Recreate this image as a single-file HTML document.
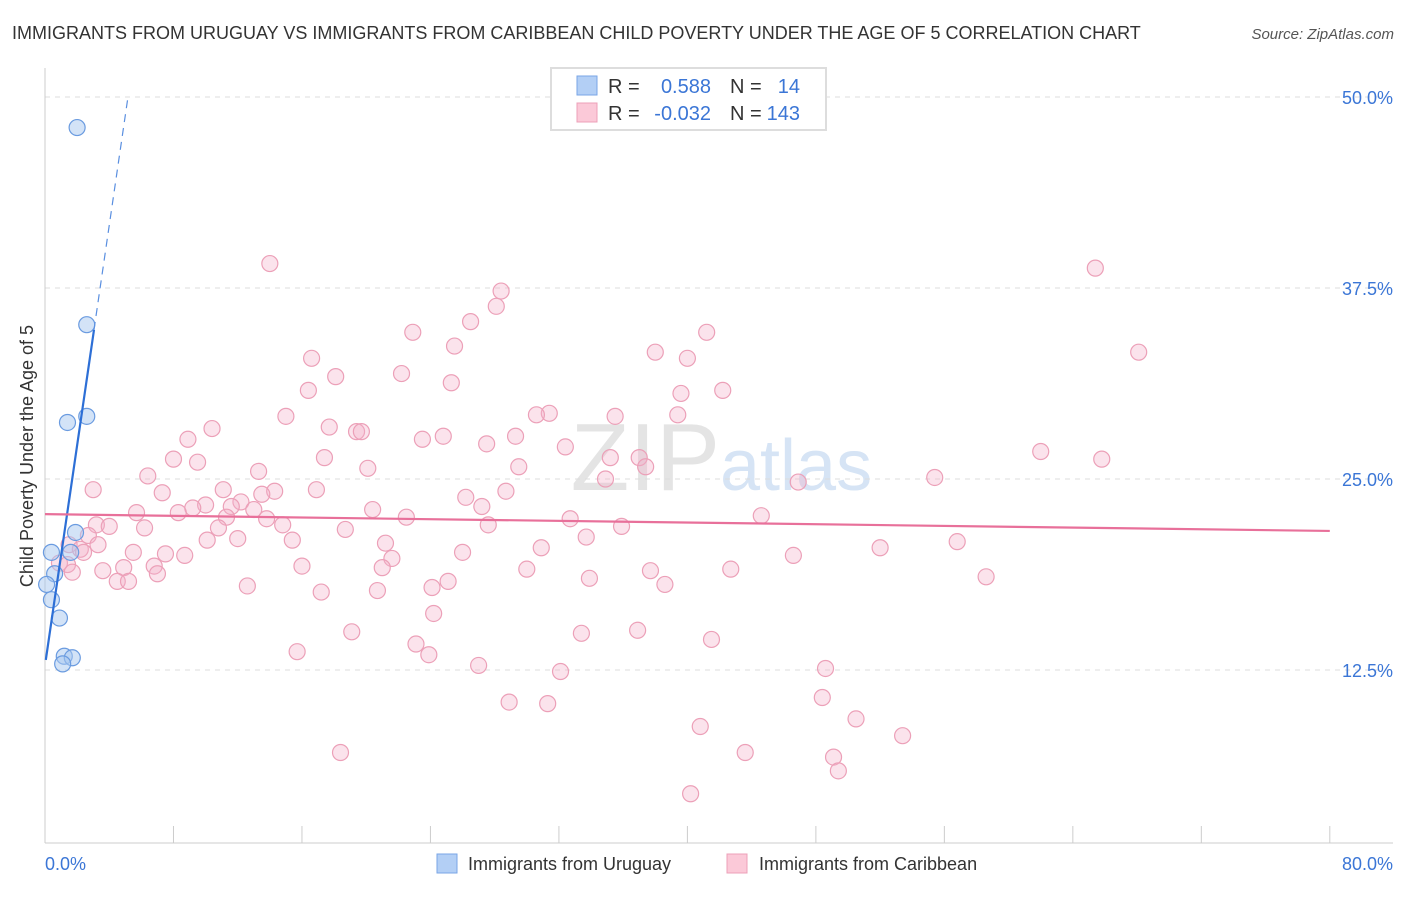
<!DOCTYPE html>
<html><head><meta charset="utf-8"><style>
body{margin:0;background:#fff;font-family:"Liberation Sans",sans-serif;}
svg text{font-family:"Liberation Sans",sans-serif;}
</style></head><body>
<svg id="chart" width="1406" height="892" xmlns="http://www.w3.org/2000/svg">
<text x="12" y="39" font-size="18" fill="#333">IMMIGRANTS FROM URUGUAY VS IMMIGRANTS FROM CARIBBEAN CHILD POVERTY UNDER THE AGE OF 5 CORRELATION CHART</text>
<text x="1394" y="39" font-size="15" fill="#555" text-anchor="end" font-style="italic">Source: ZipAtlas.com</text>
<text transform="translate(33,456) rotate(-90)" font-size="18" fill="#333" text-anchor="middle">Child Poverty Under the Age of 5</text>
<text x="720" y="490" font-size="96" fill="#e4e4e4" text-anchor="end" font-family="Liberation Serif">ZIP</text>
<text x="720" y="490" font-size="72" fill="#d6e4f5">atlas</text>
<g id="grid"></g><g id="axes"></g><g id="marks"></g>
<g>
<rect x="551" y="68" width="275" height="62" fill="#fff" stroke="#ddd" stroke-width="2"/>
<rect x="577" y="76" width="20" height="19" fill="#b3cff5" stroke="#7aa6e6"/>
<rect x="577" y="103" width="20" height="19" fill="#fbc9d8" stroke="#eca0b8"/>
<text x="608" y="93" font-size="20" fill="#333">R =</text>
<text x="711" y="93" font-size="20" fill="#3b76d6" text-anchor="end">0.588</text>
<text x="730" y="93" font-size="20" fill="#333">N =</text>
<text x="800" y="93" font-size="20" fill="#3b76d6" text-anchor="end">14</text>
<text x="608" y="120" font-size="20" fill="#333">R =</text>
<text x="711" y="120" font-size="20" fill="#3b76d6" text-anchor="end">-0.032</text>
<text x="730" y="120" font-size="20" fill="#333">N =</text>
<text x="800" y="120" font-size="20" fill="#3b76d6" text-anchor="end">143</text>
</g>
<g>
<rect x="437" y="854" width="20" height="19" fill="#b3cff5" stroke="#7aa6e6"/>
<text x="468" y="870" font-size="18" fill="#333">Immigrants from Uruguay</text>
<rect x="727" y="854" width="20" height="19" fill="#fbc9d8" stroke="#eca0b8"/>
<text x="759" y="870" font-size="18" fill="#333">Immigrants from Caribbean</text>
</g>
</svg>
<script>
const yTicks=[12.5,25,37.5,50];
const yTickLabels=["12.5%","25.0%","37.5%","50.0%"];
const xTicks=[0,8,16,24,32,40,48,56,64,72,80];
const xEndLabels=["0.0%","80.0%"];
const uruguayX=[2.0,2.6,2.6,1.4,1.9,1.6,0.4,0.6,0.4,0.9,1.2,1.7,1.1,0.1];
const uruguayY=[48.0,35.1,29.1,28.7,21.5,20.2,20.2,18.8,17.1,15.9,13.4,13.3,12.9,18.1];
const caribX=[14.0,65.4,28.4,28.1,26.5,22.9,41.2,25.5,38.0,40.0,68.1,16.6,18.1,22.2,25.3,16.4,42.2,39.6,15.0,31.4,30.6,35.5,39.4,10.4,17.7,19.4,19.7,23.5,24.8,29.3,8.9,27.5,32.4,8.0,9.5,62.0,65.8,35.2,37.0,17.4,20.1,29.5,37.4,13.3,6.4,34.9,46.9,55.4,3.0,7.3,11.1,14.3,16.9,26.2,28.7,13.5,10.0,9.2,12.2,11.6,8.3,5.7,13.0,20.4,27.2,11.3,13.8,22.5,32.7,44.6,3.2,4.0,10.8,14.8,18.7,27.6,35.9,6.2,2.7,12.0,10.1,15.4,21.2,33.7,56.8,3.3,1.5,2.2,2.4,5.5,7.5,8.7,26.0,30.9,52.0,46.6,21.6,0.9,1.4,1.7,3.6,4.9,6.8,7.0,16.0,21.0,30.0,42.7,37.7,4.5,5.2,12.6,25.1,33.9,24.1,20.7,17.2,38.6,58.6,24.2,19.1,33.4,36.9,41.5,23.1,15.7,23.9,27.0,32.1,48.6,48.4,28.9,31.3,50.5,40.8,53.4,18.4,43.6,49.1,49.4,40.2];
const caribY=[39.1,38.8,37.3,36.3,35.3,34.6,34.6,33.7,33.3,32.9,33.3,32.9,31.7,31.9,31.3,30.8,30.8,30.6,29.1,29.3,29.2,29.1,29.2,28.3,28.4,28.1,28.1,27.6,27.8,27.8,27.6,27.3,27.1,26.3,26.1,26.8,26.3,26.4,26.4,26.4,25.7,25.8,25.8,25.5,25.2,25.0,24.8,25.1,24.3,24.1,24.3,24.2,24.3,23.8,24.2,24.0,23.3,23.1,23.5,23.2,22.8,22.8,23.0,23.0,23.2,22.5,22.4,22.5,22.4,22.6,22.0,21.9,21.8,22.0,21.7,22.0,21.9,21.8,21.3,21.1,21.0,21.0,20.8,21.2,20.9,20.7,20.7,20.4,20.2,20.2,20.1,20.0,20.2,20.5,20.5,20.0,19.8,19.5,19.4,18.9,19.0,19.2,19.3,18.8,19.3,19.2,19.1,19.1,19.0,18.3,18.3,18.0,18.3,18.5,17.9,17.7,17.6,18.1,18.6,16.2,15.0,14.9,15.1,14.5,14.2,13.7,13.5,12.8,12.4,12.6,10.7,10.4,10.3,9.3,8.8,8.2,7.1,7.1,6.8,5.9,4.4];
const uruguayTrend=[12.8,7.2];
const caribTrend=[22.7,21.6];

const NS="http://www.w3.org/2000/svg";
const X=v=>45+v*16.06;
const Y=v=>97+(50-v)*15.28;
function mk(tag,attrs,parent){const e=document.createElementNS(NS,tag);for(const k in attrs)e.setAttribute(k,attrs[k]);document.getElementById(parent).appendChild(e);return e;}
yTicks.forEach((t,i)=>{
 const l=mk('line',{x1:45,x2:1393,y1:Y(t),y2:Y(t),stroke:'#dcdcdc','stroke-dasharray':'5,5'},'grid');
 
 
 const tx=mk('text',{x:1393,y:Y(t)+7,'font-size':18,fill:'#3b76d6','text-anchor':'end'},'axes');
 tx.textContent=yTickLabels[i];
 
 
});
const ax=mk('line',{x1:45,x2:45,y1:68,y2:843,stroke:'#ccc'},'axes');


const bx=mk('line',{x1:45,x2:1393,y1:843,y2:843,stroke:'#ccc'},'axes');


xTicks.forEach(t=>{
 const l=mk('line',{x1:X(t),x2:X(t),y1:826,y2:843,stroke:'#ccc'},'axes');
 
 
});
const xl0=mk('text',{x:45,y:870,'font-size':18,fill:'#3b76d6'},'axes');xl0.textContent=xEndLabels[0];


const xl1=mk('text',{x:1393,y:870,'font-size':18,fill:'#3b76d6','text-anchor':'end'},'axes');xl1.textContent=xEndLabels[1];


caribX.forEach((x,i)=>{
 const c=mk('circle',{cx:X(x),cy:Y(caribY[i]),r:8,fill:'rgba(244,176,200,0.35)',stroke:'#eca0b8','stroke-width':1.2},'marks');
 
 
});
uruguayX.forEach((x,i)=>{
 const c=mk('circle',{cx:X(x),cy:Y(uruguayY[i]),r:8,fill:'rgba(168,200,240,0.5)',stroke:'#6a9be0','stroke-width':1.2},'marks');
 
 
});
const ut=x=>uruguayTrend[0]+uruguayTrend[1]*x;
const xEndU=(50-uruguayTrend[0])/uruguayTrend[1];
const ul=mk('line',{x1:X(0.05),y1:Y(ut(0.05)),x2:X(3.05),y2:Y(ut(3.05)),stroke:'#2d6fd6','stroke-width':2.2},'marks');


const ud=mk('line',{x1:X(3.05),y1:Y(ut(3.05)),x2:X(xEndU),y2:Y(50),stroke:'#5a8fe0','stroke-width':1.2,'stroke-dasharray':'8,6'},'marks');


const cl=mk('line',{x1:X(0),y1:Y(caribTrend[0]),x2:X(80),y2:Y(caribTrend[1]),stroke:'#e8709a','stroke-width':2.2},'marks');


</script>
</body></html>
